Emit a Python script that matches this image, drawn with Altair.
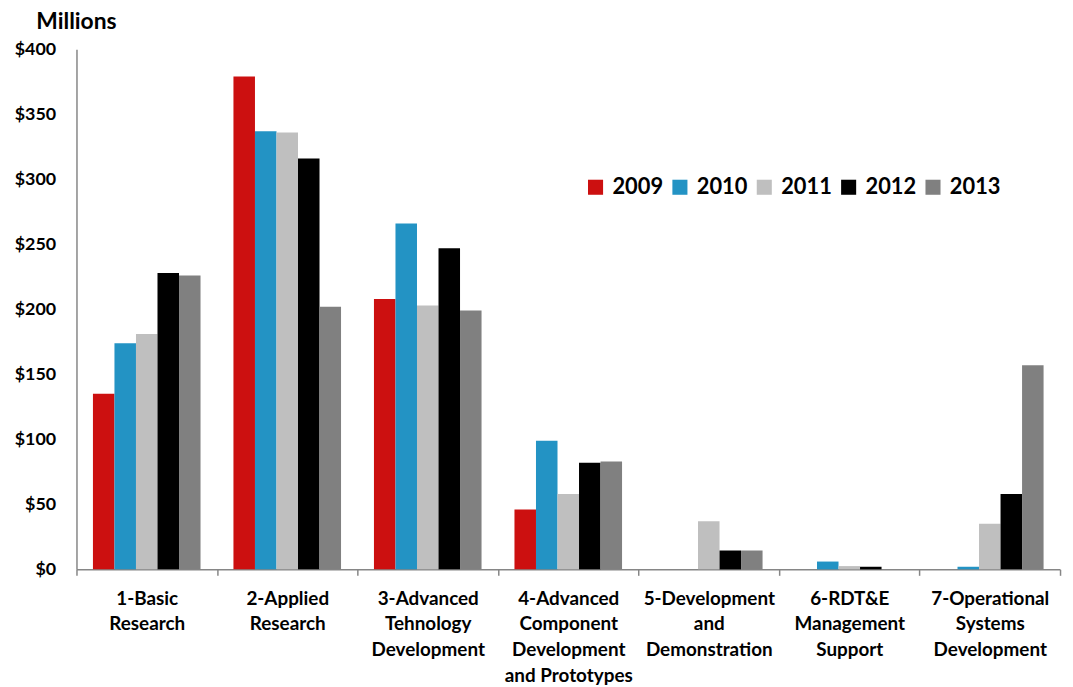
import altair as alt
import pandas as pd

categories = ["1-Basic Research", "2-Applied Research", "3-Advanced Tehnology Development",
              "4-Advanced Component Development and Prototypes", "5-Development and Demonstration",
              "6-RDT&E Management Support", "7-Operational Systems Development"]
label_lines = [["1-Basic", "Research"], ["2-Applied", "Research"],
               ["3-Advanced", "Tehnology", "Development"],
               ["4-Advanced", "Component", "Development", "and Prototypes"],
               ["5-Development", "and", "Demonstration"],
               ["6-RDT&E", "Management", "Support"],
               ["7-Operational", "Systems", "Development"]]
years = ["2009", "2010", "2011", "2012", "2013"]
colors = ["#CC1010", "#2393C4", "#BFBFBF", "#000000", "#808080"]
v2009 = [135, 379, 208, 46, 0, 0, 0]
v2010 = [174, 337, 266, 99, 0, 6, 2]
v2011 = [181, 336, 203, 58, 37, 2.5, 35]
v2012 = [228, 316, 247, 82, 14.5, 2, 58]
v2013 = [226, 202, 199, 83, 14.5, 0, 157]

series = dict(zip(years, [v2009, v2010, v2011, v2012, v2013]))
rows = []
for y, vals in series.items():
    for c, v in zip(categories, vals):
        rows.append({"cat": c, "year": y, "value": v})
df = pd.DataFrame(rows)

label_map = "{" + ",".join(
    "'" + c + "':[" + ",".join("'" + l + "'" for l in ls) + "]"
    for c, ls in zip(categories, label_lines)) + "}"

font = "Lato"

chart = alt.Chart(df).mark_bar().encode(
    x=alt.X("cat:N", sort=categories,
            scale=alt.Scale(paddingInner=0, paddingOuter=0),
            axis=alt.Axis(title=None, labelAngle=0, labelExpr=label_map + "[datum.label]",
                          tickBand="extent", tickSize=6, tickColor="#868686",
                          domainColor="#868686", domainWidth=1.5, tickWidth=1.5,
                          labelFont=font, labelFontWeight="bold", labelFontSize=19,
                          labelColor="#000000", labelLineHeight=26, labelPadding=14,
                          labelBaseline="top")),
    xOffset=alt.XOffset("year:N", sort=years,
                        scale=alt.Scale(paddingInner=0, paddingOuter=0.765)),
    y=alt.Y("value:Q", scale=alt.Scale(domain=[0, 400], nice=False),
            axis=alt.Axis(values=[0, 50, 100, 150, 200, 250, 300, 350, 400],
                          labelExpr="'$' + datum.value", grid=False, ticks=False,
                          domainColor="#868686", domainWidth=1.5,
                          labelFont=font, labelFontWeight="bold", labelFontSize=18,
                          labelColor="#000000", labelPadding=21,
                          title="Millions", titleAngle=0, titleAlign="left",
                          titleBaseline="top", titleX=-41, titleY=-39,
                          titleFont=font, titleFontSize=23, titleFontWeight="bold",
                          titleColor="#000000")),
    color=alt.Color("year:N", sort=years, scale=alt.Scale(domain=years, range=colors),
                    legend=alt.Legend(title=None, orient="none", direction="horizontal",
                                      legendX=512, legendY=128, symbolType="square",
                                      symbolSize=230, symbolStrokeWidth=0,
                                      labelFont=font, labelFontSize=22,
                                      labelFontWeight="bold", labelColor="#000000",
                                      columnPadding=5, labelOffset=6)),
).properties(
    width=991, height=524,
    autosize=alt.AutoSizeParams(type="none"),
    padding={"left": 69, "top": 39, "right": 5, "bottom": 125},
).configure_view(stroke=None)

chart.save("out.html", embed_options={"renderer": "svg", "actions": False})
